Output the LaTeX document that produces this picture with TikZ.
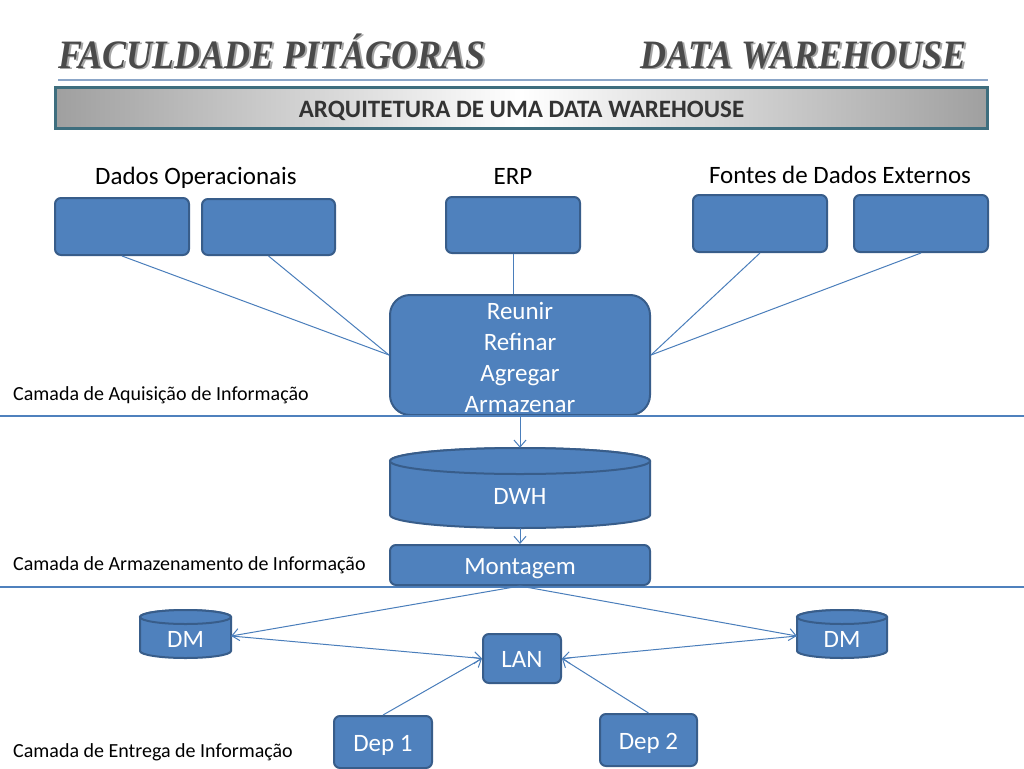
\documentclass[tikz,border=0pt]{standalone}
\usepackage{fontspec}
\usepackage{graphicx}
\setmainfont{Carlito}
\newfontfamily\titlefont{Liberation Serif}
\usetikzlibrary{arrows.meta}
\definecolor{boxfill}{HTML}{4F81BD}
\definecolor{boxline}{HTML}{385D8A}
\definecolor{conn}{HTML}{4A7EBB}
\definecolor{titlegray}{HTML}{4A4A4A}
\definecolor{titleshadow}{HTML}{A6A6A6}
\definecolor{bannerline}{HTML}{3E6E7E}
\definecolor{rulecol}{HTML}{8BA6C8}
\newcommand{\tallttl}[1]{\scalebox{1}[1.12]{#1}}
\begin{document}
\begin{tikzpicture}[x=1pt,y=-1pt,
  blue box/.style={draw=boxline, line width=2pt, fill=boxfill, rounded corners=6pt, text=white, inner sep=0pt, font=\fontsize{25}{30}\selectfont, text height=20pt, text depth=2pt},
  txt/.style={font=\fontsize{25}{30}\selectfont, inner sep=0pt},
  layer/.style={font=\fontsize{20}{24}\selectfont, inner sep=0pt, anchor=base west},
  conline/.style={draw=conn, line width=1pt},
  arr/.style={conline, -{Straight Barb[length=7pt,width=12pt]}},
  sep/.style={draw=boxfill, line width=1.2pt},
  cyl/.style={draw=boxline, line width=2pt, fill=boxfill},
  ttl/.style={font=\titlefont\bfseries\itshape\fontsize{36}{40}\selectfont, inner sep=0pt, anchor=base west},
]
\useasboundingbox (0,0) rectangle (1024,768);
\fill[white] (0,0) rectangle (1024,768);

% title
\node[ttl, text=titleshadow] (t1s) at (60,70) {\tallttl{FACULDADE PITÁGORAS}};
\node[ttl, text=titlegray] (t1) at (58,68) {\tallttl{FACULDADE PITÁGORAS}};
\node[ttl, text=titleshadow] (t2s) at (642,70) {\tallttl{DATA WAREHOUSE}};
\node[ttl, text=titlegray] (t2) at (640,68) {\tallttl{DATA WAREHOUSE}};
\draw[draw=rulecol, line width=1.5pt] (58,80) -- (988,80);

% banner
\node[draw=bannerline, line width=3pt, left color=gray!75, right color=gray!75, middle color=white, shading=axis, minimum width=932pt, minimum height=41pt, inner sep=0pt] (banner) at (521.5,108) {};
\node[font=\bfseries\fontsize{25}{30}\selectfont, text=black!80, inner sep=0pt, anchor=base] (bannertxt) at (521.5,117) {ARQUITETURA DE UMA DATA WAREHOUSE};

% headers
\node[txt, anchor=base] (hdo) at (196,184) {Dados Operacionais};
\node[txt, anchor=base] (herp) at (513,184) {ERP};
\node[txt, anchor=base] (hfde) at (840,183) {Fontes de Dados Externos};

% source boxes
\node[blue box, minimum width=134pt, minimum height=57pt] (b1) at (122,226.5) {};
\node[blue box, minimum width=133pt, minimum height=56pt] (b2) at (268.5,227) {};
\node[blue box, minimum width=134pt, minimum height=56pt] (b3) at (513,225) {};
\node[blue box, minimum width=134pt, minimum height=57pt] (b4) at (760,223.5) {};
\node[blue box, minimum width=134pt, minimum height=57pt] (b5) at (921,223.5) {};

% processing box
\node[blue box, rounded corners=20pt, minimum width=260pt, minimum height=120pt, align=center, font=\fontsize{25}{31}\selectfont, text height=, text depth=] (reunir) at (520,355) {\strut Reunir\\Refinar\\Agregar\\Armazenar};

\draw[conline] (b1.south) -- (reunir.west);
\draw[conline] (b2.south) -- (reunir.west);
\draw[conline] (b3.south) -- (b3.south |- reunir.north);
\draw[conline] (b4.south) -- (reunir.east);
\draw[conline] (b5.south) -- (reunir.east);

% layer separators and labels
\draw[sep] (0,416) -- (1024,416);
\draw[sep] (0,587) -- (1024,587);
\node[layer] (l1) at (13,400) {Camada de Aquisição de Informação};
\node[layer] (l2) at (13,570) {Camada de Armazenamento de Informação};
\node[layer] (l3) at (13,757) {Camada de Entrega de Informação};

% DWH cylinder
\path[cyl] (390,461) -- (390,515) arc[start angle=180, end angle=0, x radius=130, y radius=13] -- (650,461) arc[start angle=0, end angle=-180, x radius=130, y radius=13] -- cycle;
\draw[cyl] (520,461) ellipse[x radius=130, y radius=13];
\node[inner sep=0pt, minimum width=260pt, minimum height=80pt] (dwh) at (520,488) {};
\node[txt, text=white] (dwhtxt) at (520,496) {DWH};

% Montagem
\node[blue box, minimum width=260pt, minimum height=40pt] (mont) at (520,565) {Montagem};

\draw[arr] (reunir.south) -- (dwh.north);
\draw[arr] (dwh.south) -- (mont.north);

% DM cylinders
\path[cyl] (140,617) -- (140,651) arc[start angle=180, end angle=0, x radius=45.5, y radius=7] -- (231,617) arc[start angle=0, end angle=-180, x radius=45.5, y radius=7] -- cycle;
\draw[cyl] (185.5,617) ellipse[x radius=45.5, y radius=7];
\node[inner sep=0pt, minimum width=91pt, minimum height=48pt] (dml) at (185.5,634) {};
\node[txt, text=white] (dmltxt) at (185.5,639) {DM};

\path[cyl] (797,617) -- (797,651) arc[start angle=180, end angle=0, x radius=45, y radius=7] -- (887,617) arc[start angle=0, end angle=-180, x radius=45, y radius=7] -- cycle;
\draw[cyl] (842,617) ellipse[x radius=45, y radius=7];
\node[inner sep=0pt, minimum width=90pt, minimum height=48pt] (dmr) at (842,634) {};
\node[txt, text=white] (dmrtxt) at (842,639) {DM};

% LAN and departments
\node[blue box, minimum width=78pt, minimum height=49pt] (lan) at (522,658.5) {LAN};
\node[blue box, minimum width=98pt, minimum height=52pt] (dep1) at (383,742) {Dep 1};
\node[blue box, minimum width=97pt, minimum height=52pt] (dep2) at (648.5,740) {Dep 2};

\coordinate (dmlE) at ([yshift=-2pt]dml.east);
\coordinate (dmrW) at ([yshift=-2pt]dmr.west);
\draw[arr] (mont.south) -- (dmlE);
\draw[arr] (mont.south) -- (dmrW);
\draw[arr] (dmlE) -- (lan.west);
\draw[arr] (dmrW) -- (lan.east);
\draw[arr] (dep1.north) -- (lan.west);
\draw[arr] (dep2.north) -- (lan.east);
\end{tikzpicture}
\end{document}
